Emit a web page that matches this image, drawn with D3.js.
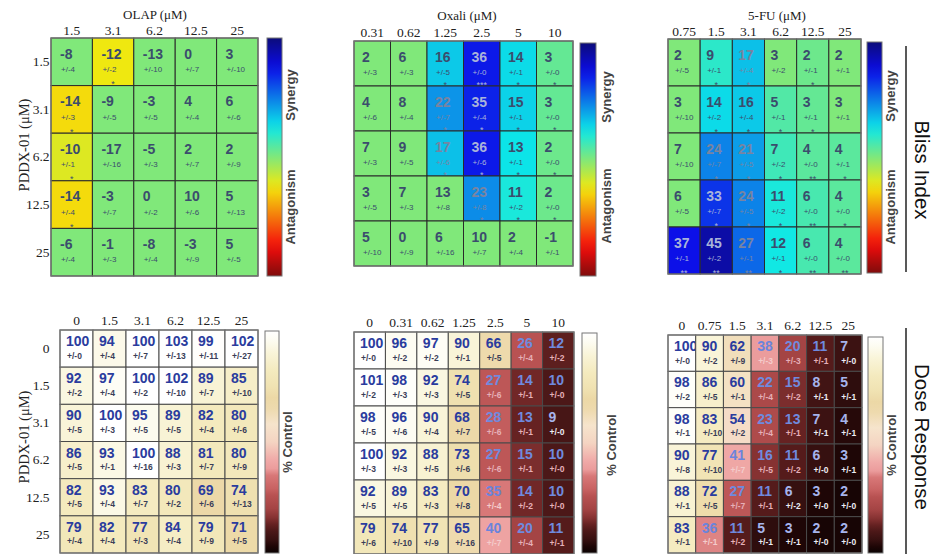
<!DOCTYPE html>
<html>
<head>
<meta charset="utf-8">
<script src="https://cdn.jsdelivr.net/npm/d3@7"></script>
<style>
body { margin: 0; background: #fff; }
</style>
</head>
<body>
<svg id="chart" width="934" height="554"></svg>
<script>
// ---------- data ----------
const pddxBliss = ["1.5", "3.1", "6.2", "12.5", "25"];
const pddxDose = ["0", "1.5", "3.1", "6.2", "12.5", "25"];

// Bliss index, rows = PDDX-01 dose, cols = partner drug dose
const olapBlissDoses = ["1.5", "3.1", "6.2", "12.5", "25"];
const olapBliss = [[-8, -12, -13, 0, 3], [-14, -9, -3, 4, 6], [-10, -17, -5, 2, 2], [-14, -3, 0, 10, 5], [-6, -1, -8, -3, 5]];
const olapBlissErr = [[4, 2, 10, 7, 10], [3, 5, 5, 4, 6], [1, 16, 3, 7, 9], [4, 7, 2, 6, 13], [4, 3, 4, 9, 5]];
const olapBlissSig = [["", "*", "", "", ""], ["*", "", "", "", ""], ["*", "", "", "", ""], ["*", "", "", "", ""], ["", "", "", "", ""]];

const oxaliBlissDoses = ["0.31", "0.62", "1.25", "2.5", "5", "10"];
const oxaliBliss = [[2, 6, 16, 36, 14, 3], [4, 8, 22, 35, 15, 3], [7, 9, 17, 36, 13, 2], [3, 7, 13, 23, 11, 2], [5, 0, 6, 10, 2, -1]];
const oxaliBlissErr = [[3, 3, 5, 0, 1, 0], [6, 4, 7, 4, 1, 0], [3, 5, 6, 6, 1, 0], [5, 3, 8, 8, 2, 0], [10, 9, 16, 7, 4, 1]];
const oxaliBlissSig = [["", "", "*", "***", "*", "*"], ["", "", "*", "*", "*", "*"], ["", "", "*", "*", "*", "*"], ["", "", "", "*", "*", "*"], ["", "", "", "", "", ""]];

const fuBlissDoses = ["0.75", "1.5", "3.1", "6.2", "12.5", "25"];
const fuBliss = [[2, 9, 17, 3, 2, 2], [3, 14, 16, 5, 3, 3], [7, 24, 21, 7, 4, 4], [6, 33, 24, 11, 6, 4], [37, 45, 27, 12, 6, 4]];
const fuBlissErr = [[5, 1, 4, 2, 1, 1], [10, 2, 4, 1, 1, 1], [10, 7, 5, 2, 0, 1], [5, 7, 5, 2, 0, 0], [1, 2, 1, 1, 0, 0]];
const fuBlissSig = [["", "*", "*", "", "*", ""], ["", "*", "*", "*", "*", ""], ["", "*", "*", "*", "**", "*"], ["", "*", "*", "*", "**", "*"], ["**", "**", "**", "*", "**", "**"]];

// Dose response, % control
const olapDoseDoses = ["0", "1.5", "3.1", "6.2", "12.5", "25"];
const olapDose = [[100, 94, 100, 103, 99, 102], [92, 97, 100, 102, 89, 85], [90, 100, 95, 89, 82, 80], [86, 93, 100, 88, 81, 80], [82, 93, 83, 80, 69, 74], [79, 82, 77, 84, 79, 71]];
const olapDoseErr = [[0, 4, 7, 13, 11, 27], [2, 4, 2, 10, 7, 10], [5, 3, 5, 5, 4, 6], [5, 1, 16, 3, 7, 9], [5, 4, 7, 2, 6, 13], [4, 4, 3, 4, 9, 5]];

const oxaliDoseDoses = ["0", "0.31", "0.62", "1.25", "2.5", "5", "10"];
const oxaliDose = [[100, 96, 97, 90, 66, 26, 12], [101, 98, 92, 74, 27, 14, 10], [98, 96, 90, 68, 28, 13, 9], [100, 92, 88, 73, 27, 15, 10], [92, 89, 83, 70, 35, 14, 10], [79, 74, 77, 65, 40, 20, 11]];
const oxaliDoseErr = [[0, 2, 2, 1, 5, 4, 2], [2, 3, 3, 5, 6, 1, 0], [5, 6, 4, 7, 6, 1, 0], [3, 3, 5, 6, 6, 1, 0], [5, 5, 3, 8, 4, 2, 0], [6, 10, 9, 16, 7, 4, 1]];

const fuDoseDoses = ["0", "0.75", "1.5", "3.1", "6.2", "12.5", "25"];
const fuDose = [[100, 90, 62, 38, 20, 11, 7], [98, 86, 60, 22, 15, 8, 5], [98, 83, 54, 23, 13, 7, 4], [90, 77, 41, 16, 11, 6, 3], [88, 72, 27, 11, 6, 3, 2], [83, 36, 11, 5, 3, 2, 2]];
const fuDoseErr = [[0, 2, 9, 3, 3, 1, 0], [2, 5, 1, 4, 2, 1, 1], [1, 10, 2, 4, 1, 1, 1], [8, 10, 7, 5, 2, 0, 1], [1, 5, 7, 1, 2, 0, 0], [1, 1, 2, 1, 1, 0, 0]];

// ---------- colour maps ----------
function jet(t) {
  const c = v => Math.max(0, Math.min(1, v));
  const r = c(1.5 - Math.abs(4 * t - 3)), g = c(1.5 - Math.abs(4 * t - 2)), b = c(1.5 - Math.abs(4 * t - 1));
  return d3.rgb(r * 232 + 12, g * 220 + 12, b * 220 + 12);
}
// synergy (positive) -> blue end, antagonism (negative) -> red end
const blissT = d3.scaleLinear().domain([-50, 0, 50]).range([1, 0.5, 0]).clamp(true);

const doseStops = [0, 3, 6, 10, 13, 16, 20, 26, 29, 35, 38, 42, 50, 58, 65, 70, 75, 82, 90, 96, 100];
const doseColors = ["#0a0202", "#1e0606", "#361010", "#4c1818", "#662222", "#863232", "#a44444", "#b85252",
  "#c86262", "#d87878", "#eb9c9c", "#f0aaa8", "#f4d4c2", "#f6e4cc", "#eedaae", "#ecd8a6", "#f0e2b2",
  "#f4eabe", "#f9f4d8", "#fdfcf2", "#ffffff"];
const doseColor = d3.scaleLinear().domain(doseStops).range(doseColors).clamp(true);

function lum(c) { c = d3.rgb(c); return (0.299 * c.r + 0.587 * c.g + 0.114 * c.b) / 255; }

const SERIF = "'Liberation Serif', 'Times New Roman', serif";
const SANS = "'Liberation Sans', Arial, sans-serif";
const NARROW = "'Liberation Sans Narrow', 'Arial Narrow', 'Liberation Sans', sans-serif";

const svg = d3.select("#chart");
const defs = svg.append("defs");

const jetGrad = defs.append("linearGradient").attr("id", "jetGrad")
  .attr("x1", 0).attr("y1", 0).attr("x2", 0).attr("y2", 1);
jetGrad.selectAll("stop").data(d3.range(0, 1.0001, 0.05)).enter().append("stop")
  .attr("offset", d => d).attr("stop-color", d => jet(d));

const doseGrad = defs.append("linearGradient").attr("id", "doseGrad")
  .attr("x1", 0).attr("y1", 0).attr("x2", 0).attr("y2", 1);
doseGrad.selectAll("stop").data(doseStops.slice().reverse()).enter().append("stop")
  .attr("offset", d => 1 - d / 100).attr("stop-color", d => doseColor(d));

// ---------- layout ----------
const panels = [
  { type: "bliss", title: "OLAP (\u03bcM)", titleX: 155, titleY: 19, cols: olapBlissDoses, rows: pddxBliss,
    vals: olapBliss, errs: olapBlissErr, sig: olapBlissSig, box: [51, 38, 258, 276], tickY: 35, padL: 9,
    cbar: [267, 38, 282, 276], labX: 291, synY: 95, antY: 207, rowLabels: true, ylabY: 145 },
  { type: "bliss", title: "Oxali (\u03bcM)", titleX: 467, titleY: 20, cols: oxaliBlissDoses, rows: pddxBliss,
    vals: oxaliBliss, errs: oxaliBlissErr, sig: oxaliBlissSig, box: [354, 41, 573, 266], tickY: 37, padL: 8,
    cbar: [580, 43, 596, 276], labX: 607, synY: 97, antY: 206 },
  { type: "bliss", title: "5-FU (\u03bcM)", titleX: 777, titleY: 20, cols: fuBlissDoses, rows: pddxBliss,
    vals: fuBliss, errs: fuBlissErr, sig: fuBlissSig, box: [668, 39, 861, 274], tickY: 36, padL: 6,
    cbar: [867, 42, 882, 273], labX: 891, synY: 96, antY: 207 },
  { type: "dose", cols: olapDoseDoses, rows: pddxDose, vals: olapDose, errs: olapDoseErr,
    box: [60, 330, 258, 553], tickY: 325, cbar: [265, 331, 279, 553], labX: 288, ctlY: 442, rowLabels: true, ylabY: 437 },
  { type: "dose", cols: oxaliDoseDoses, rows: pddxDose, vals: oxaliDose, errs: oxaliDoseErr,
    box: [354, 332, 574, 554], tickY: 327, cbar: [582, 333, 597, 553], labX: 612, ctlY: 445 },
  { type: "dose", cols: fuDoseDoses, rows: pddxDose, vals: fuDose, errs: fuDoseErr,
    box: [668, 335, 862, 553], tickY: 330, cbar: [868, 337, 883, 553], labX: 892, ctlY: 445 }
];

function drawPanel(p) {
  const g = svg.append("g");
  const x = d3.scaleBand().domain(p.cols).range([p.box[0], p.box[2]]);
  const y = d3.scaleBand().domain(p.rows).range([p.box[1], p.box[3]]);
  const bliss = p.type === "bliss";

  const cells = [];
  p.vals.forEach((row, i) => row.forEach((v, j) => cells.push({
    r: p.rows[i], c: p.cols[j], v: v, e: p.errs[i][j], s: bliss ? p.sig[i][j] : ""
  })));
  cells.forEach(d => {
    d.fill = bliss ? jet(blissT(d.s ? d.v : 0)) : doseColor(d.v);
    d.L = lum(d.fill);
  });

  const cg = g.selectAll(".cell").data(cells).enter().append("g")
    .attr("class", "cell")
    .attr("transform", d => `translate(${x(d.c)},${y(d.r)})`);

  cg.append("rect")
    .attr("width", x.bandwidth()).attr("height", y.bandwidth())
    .attr("fill", d => d.fill)
    .attr("stroke", bliss ? "#2a2a2a" : "#4a4a4a").attr("stroke-width", 1);

  if (bliss) {
    const tc = d => d.L > 0.58 ? "#3b4d6d" : d.L > 0.33 ? "#7884a2" : "#a9b3d9";
    cg.append("text").attr("x", p.padL).attr("y", 20.5)
      .style("font-family", NARROW).attr("font-size", 14).attr("font-weight", "bold").attr("fill", tc)
      .text(d => d.v);
    cg.append("text").attr("x", p.padL + 1).attr("y", 34)
      .style("font-family", NARROW).attr("font-size", 8).attr("fill", tc)
      .text(d => "+/-" + d.e);
    cg.append("text").attr("x", x.bandwidth() / 2).attr("y", y.bandwidth() + 1.5)
      .style("font-family", SANS).attr("text-anchor", "middle").attr("font-size", 9).attr("fill", tc)
      .text(d => d.s);
  } else {
    const nc = d => d.L > 0.78 ? "#2a3c9e" : d.L > 0.5 ? "#6a84dc" : d.L > 0.15 ? "#6f8ade" : "#a6b4ec";
    const ec = d => d.L > 0.78 ? "#3a3e58" : d.L > 0.5 ? "#f4cccc" : d.L > 0.15 ? "#e6b0b8" : "#ececf4";
    cg.append("text").attr("x", 6).attr("y", 16)
      .style("font-family", NARROW).attr("font-size", 14).attr("font-weight", "bold").attr("fill", nc)
      .text(d => d.v);
    cg.append("text").attr("x", 7).attr("y", 28.5)
      .style("font-family", NARROW).attr("font-size", 8.5).attr("font-weight", "bold").attr("fill", ec)
      .text(d => "+/-" + d.e);
  }

  // outer frame
  g.append("rect").attr("x", p.box[0]).attr("y", p.box[1])
    .attr("width", p.box[2] - p.box[0]).attr("height", p.box[3] - p.box[1])
    .attr("fill", "none").attr("stroke", "#7a7a7a").attr("stroke-width", 1.2);

  // column tick labels
  const ax = g.append("g").attr("transform", `translate(0,${p.box[1]})`)
    .call(d3.axisTop(x).tickSize(0).tickPadding(p.box[1] - p.tickY));
  ax.select(".domain").remove();
  ax.selectAll("text").style("font-family", SERIF)
    .attr("font-size", 13.5).attr("fill", "#222");

  if (p.rowLabels) {
    const ay = g.append("g").attr("transform", "translate(49.5,0)")
      .call(d3.axisLeft(y).tickSize(0).tickPadding(0));
    ay.select(".domain").remove();
    ay.selectAll("text").style("font-family", SERIF)
      .attr("font-size", 13.5).attr("fill", "#222");
    g.append("text").attr("transform", `translate(29,${p.ylabY}) rotate(-90)`)
      .attr("text-anchor", "middle")
      .style("font-family", SERIF)
      .attr("font-size", 14.5).attr("fill", "#222")
      .text("PDDX-01 (\u03bcM)");
  }

  if (p.title) {
    g.append("text").attr("x", p.titleX).attr("y", p.titleY)
      .attr("text-anchor", "middle")
      .style("font-family", SERIF)
      .attr("font-size", 13).attr("fill", "#222")
      .text(p.title);
  }

  // colour bar
  g.append("rect").attr("x", p.cbar[0]).attr("y", p.cbar[1])
    .attr("width", p.cbar[2] - p.cbar[0]).attr("height", p.cbar[3] - p.cbar[1])
    .attr("fill", bliss ? "url(#jetGrad)" : "url(#doseGrad)")
    .attr("stroke", "#777").attr("stroke-width", 1);

  const lab = (ty, txt, size) => g.append("text")
    .attr("transform", `translate(${p.labX + 4},${ty}) rotate(-90)`)
    .attr("text-anchor", "middle")
    .style("font-family", SANS)
    .attr("font-weight", "bold").attr("font-size", size).attr("fill", "#444")
    .text(txt);
  if (bliss) {
    lab(p.synY, "Synergy", 13);
    lab(p.antY, "Antagonism", 13);
  } else {
    lab(p.ctlY, "% Control", 13);
  }
}

panels.forEach(drawPanel);

// row titles at right
const sideLabels = [["Bliss Index", 170, 46, 272], ["Dose Response", 437, 328, 554]];
sideLabels.forEach(s => {
  svg.append("line").attr("x1", 906).attr("x2", 906).attr("y1", s[2]).attr("y2", s[3])
    .attr("stroke", "#222").attr("stroke-width", 1.5);
  svg.append("text").attr("transform", `translate(915,${s[1]}) rotate(90)`)
    .attr("text-anchor", "middle")
    .style("font-family", SANS)
    .attr("font-size", 20.5).attr("fill", "#111")
    .text(s[0]);
});
</script>
</body>
</html>
